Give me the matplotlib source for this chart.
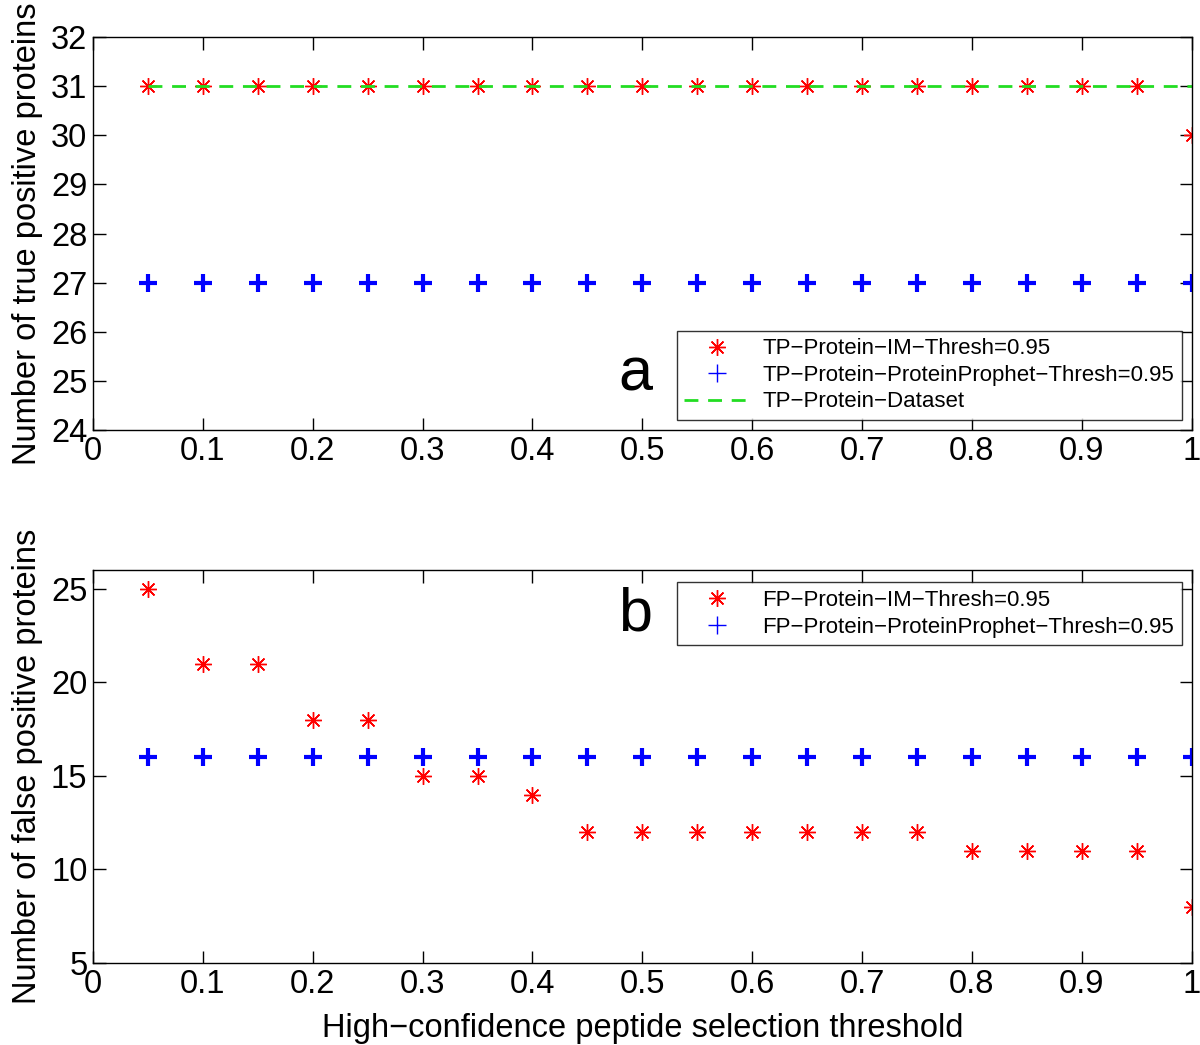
import matplotlib
matplotlib.use('Agg')
import matplotlib.pyplot as plt
import numpy as np

plt.rcParams['font.family'] = ['Liberation Sans', 'DejaVu Sans']

# thresholds (x axis)
thresholds = [0.05, 0.10, 0.15, 0.20, 0.25, 0.30, 0.35, 0.40, 0.45, 0.50,
              0.55, 0.60, 0.65, 0.70, 0.75, 0.80, 0.85, 0.90, 0.95, 1.00]

# panel a: true positives
tp_im = [31, 31, 31, 31, 31, 31, 31, 31, 31, 31,
         31, 31, 31, 31, 31, 31, 31, 31, 31, 30]
tp_pp = [27] * 20
tp_dataset = [31] * 20

# panel b: false positives
fp_im = [25, 21, 21, 18, 18, 15, 15, 14, 12, 12,
         12, 12, 12, 12, 12, 11, 11, 11, 11, 8]
fp_pp = [16] * 20

M = '\u2212'
ast = (8, 2, 0)
FS = 23.5

fig = plt.figure(figsize=(12, 10.45), dpi=100)
ax1 = fig.add_axes([0.0775, 0.5885, 0.9155, 0.376])
ax2 = fig.add_axes([0.0775, 0.0785, 0.9155, 0.376])

legkw = dict(fontsize=16, frameon=True, fancybox=False, edgecolor='black',
             borderpad=0.35, labelspacing=0.25, handlelength=2.9,
             handletextpad=0.6, borderaxespad=0)

# --- panel a
ax1.plot(thresholds, tp_im, linestyle='none', marker=ast, color='red',
         markersize=12, markeredgewidth=1.0,
         label=f'TP{M}Protein{M}IM{M}Thresh=0.95')
ax1.plot(thresholds, tp_pp, linestyle='none', marker='+', color='blue',
         markersize=13, markeredgewidth=3,
         label=f'TP{M}Protein{M}ProteinProphet{M}Thresh=0.95')
ax1.plot(thresholds, tp_dataset, linestyle=(0, (5, 3.5)), color='#22dd22',
         linewidth=2, label=f'TP{M}Protein{M}Dataset')
ax1.set_ylim(24, 32)
ax1.set_yticks(np.arange(24, 33, 1))
ax1.set_ylabel('Number of true positive proteins', fontsize=FS, labelpad=6)
ax1.text(0.4935, 0.14, 'a', transform=ax1.transAxes, fontsize=44,
         ha='center', va='center')
leg1 = ax1.legend(loc='lower right', bbox_to_anchor=(0.991, 0.025), **legkw)
leg1.get_frame().set_linewidth(1.0)

# --- panel b
ax2.plot(thresholds, fp_im, linestyle='none', marker=ast, color='red',
         markersize=12, markeredgewidth=1.0,
         label=f'FP{M}Protein{M}IM{M}Thresh=0.95')
ax2.plot(thresholds, fp_pp, linestyle='none', marker='+', color='blue',
         markersize=13, markeredgewidth=3,
         label=f'FP{M}Protein{M}ProteinProphet{M}Thresh=0.95')
ax2.set_ylim(5, 26)
ax2.set_yticks([5, 10, 15, 20, 25])
ax2.set_ylabel('Number of false positive proteins', fontsize=FS, labelpad=6)
ax2.set_xlabel(f'High{M}confidence peptide selection threshold', fontsize=FS,
               labelpad=10)
ax2.text(0.4935, 0.885, 'b', transform=ax2.transAxes, fontsize=44,
         ha='center', va='center')
leg2 = ax2.legend(loc='upper right', bbox_to_anchor=(0.991, 0.969), **legkw)
leg2.get_frame().set_linewidth(1.0)

for ax in (ax1, ax2):
    ax.set_xlim(0, 1)
    ax.set_xticks(np.arange(0, 1.01, 0.1))
    ax.set_xticklabels(['0', '0.1', '0.2', '0.3', '0.4', '0.5', '0.6',
                        '0.7', '0.8', '0.9', '1'])
    ax.tick_params(direction='in', length=9, width=1, labelsize=FS,
                   top=True, right=True, pad=4)
    for s in ax.spines.values():
        s.set_linewidth(1.0)
    for h in ax.get_legend().legend_handles:
        if h.get_marker() == '+':
            h.set_markeredgewidth(1.0)

fig.savefig('out.png', dpi=100)
